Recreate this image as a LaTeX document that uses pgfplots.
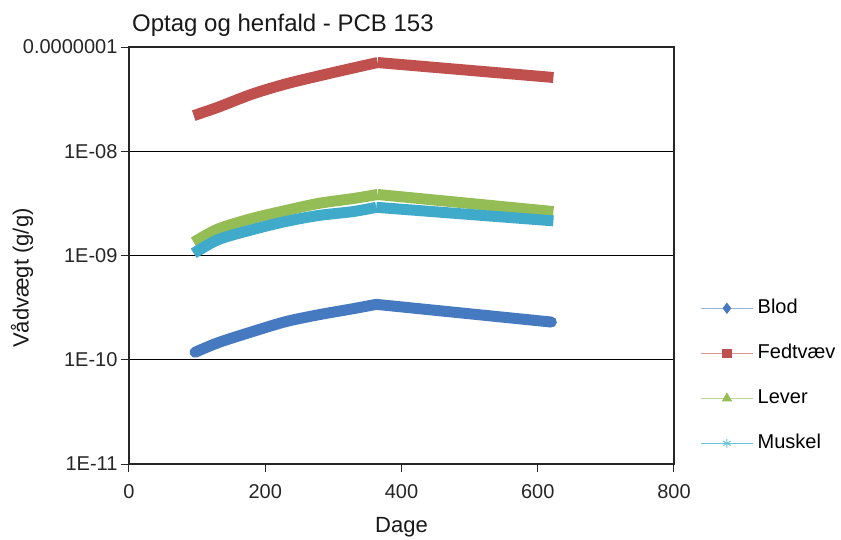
\documentclass[border=0pt]{standalone}
\usepackage{pgfplots}
\pgfplotsset{compat=1.18}
\usepackage{fontspec}
\setmainfont{Liberation Sans}
\definecolor{blod}{HTML}{4579C0}
\definecolor{fedt}{HTML}{C0504D}
\definecolor{lever}{HTML}{94BD55}
\definecolor{muskel}{HTML}{40AACA}
\definecolor{muskellight}{HTML}{6CC4DC}
\begin{document}
\begin{tikzpicture}
\path[use as bounding box] (-129bp,-76bp) rectangle (712bp,464bp);
\begin{axis}[
  at={(0,0)}, anchor=south west,
  scale only axis, width=545bp, height=417bp,
  ymode=log, xmin=0, xmax=800, ymin=1e-11, ymax=1e-7,
  xtick={0,200,400,600,800}, xticklabels={0,200,400,600,800},
  ytick={1e-11,1e-10,1e-9,1e-8,1e-7},
  yticklabels={1E-11,1E-10,1E-09,1E-08,0.0000001},
  yminorticks=false, xminorticks=false,
  tick align=outside, major tick length=8bp,
  xtick pos=bottom, ytick pos=left,
  ymajorgrids, grid style={black, line width=0.8bp},
  axis line style={black!85, line width=1.2bp},
  major tick style={black!85, line width=1bp},
  tick label style={font=\fontsize{20bp}{24bp}\selectfont, text=black!85},
  xticklabel style={yshift=-9bp},
  xlabel={Dage}, ylabel={Vådvægt (g/g)},
  every axis x label/.style={at={(axis description cs:0.5,0)}, anchor=center, yshift=-63bp, font=\fontsize{22bp}{26bp}\selectfont, text=black!90},
  every axis y label/.style={at={(axis description cs:0,0.446)}, anchor=center, rotate=90, yshift=107bp, font=\fontsize{22bp}{26bp}\selectfont, text=black!90},
  title={Optag og henfald - PCB 153},
  title style={at={(axis description cs:0,1)}, anchor=base west, xshift=3bp, yshift=10bp, font=\fontsize{24bp}{28bp}\selectfont, inner sep=0pt, text=black!90},
  legend image code/.code={\draw[mark repeat=2,mark phase=2,#1] plot coordinates {(0bp,0bp) (26bp,0bp) (52bp,0bp)};},
  legend style={at={(axis description cs:1.0477,0.2115)}, anchor=west, draw=none, fill=none, inner sep=0pt,
    row sep=27bp, font=\fontsize{20bp}{24bp}\selectfont,
    nodes={inner ysep=0pt, inner xsep=4bp, text height=14bp, text depth=4bp}},
  legend cell align=left,
]
% Blod
\addplot[blod, line width=11bp, line cap=round, line join=round, smooth, forget plot] coordinates {
 (97,1.18e-10) (131,1.46e-10) (181,1.86e-10) (230,2.32e-10) (278,2.70e-10) (329,3.09e-10) (363,3.40e-10)};
\addplot[blod, line width=11bp, line cap=round, line join=round, forget plot] coordinates {
 (363,3.40e-10) (620,2.30e-10)};
% Fedtvaev
\addplot[fedt, line width=11bp, line join=round, smooth, forget plot] coordinates {
 (95,2.2e-8) (131,2.65e-8) (181,3.54e-8) (230,4.42e-8) (278,5.27e-8) (329,6.29e-8) (365,7.1e-8)};
\addplot[fedt, line width=11bp, line join=round, forget plot] coordinates {
 (365,7.1e-8) (623,5.1e-8)};
% Lever
\addplot[lever, line width=11bp, line join=round, smooth, forget plot] coordinates {
 (95,1.34e-9) (131,1.80e-9) (181,2.27e-9) (230,2.70e-9) (278,3.16e-9) (329,3.52e-9) (365,3.85e-9)};
\addplot[lever, line width=11bp, line join=round, forget plot] coordinates {
 (365,3.85e-9) (623,2.64e-9)};
% Muskel
\addplot[muskel, line width=11bp, line join=round, smooth, forget plot] coordinates {
 (95,1.05e-9) (131,1.42e-9) (181,1.77e-9) (230,2.12e-9) (278,2.42e-9) (329,2.64e-9) (363,2.90e-9)};
\addplot[muskel, line width=11bp, line join=round, forget plot] coordinates {
 (363,2.90e-9) (623,2.15e-9)};
\addlegendimage{draw=blod!55, line width=1.5bp, mark=diamond*, mark size=4.5bp, mark options={draw=blod, fill=blod, solid}}
\addlegendentry{Blod}
\addlegendimage{draw=fedt!60, line width=1.5bp, mark=square*, mark size=4bp, mark options={draw=fedt, fill=fedt, solid}}
\addlegendentry{Fedtvæv}
\addlegendimage{draw=lever!60, line width=1.5bp, mark=triangle*, mark size=4.5bp, mark options={draw=lever, fill=lever, solid}}
\addlegendentry{Lever}
\addlegendimage{legend image code/.code={
  \draw[draw=muskellight, line width=1.5bp] (0bp,0bp) -- (52bp,0bp);
  \draw[draw=muskellight, line width=1bp] plot[mark=asterisk, mark size=4.5bp] coordinates {(26bp,0bp)};}}
\addlegendentry{Muskel}
\end{axis}
\end{tikzpicture}
\end{document}
